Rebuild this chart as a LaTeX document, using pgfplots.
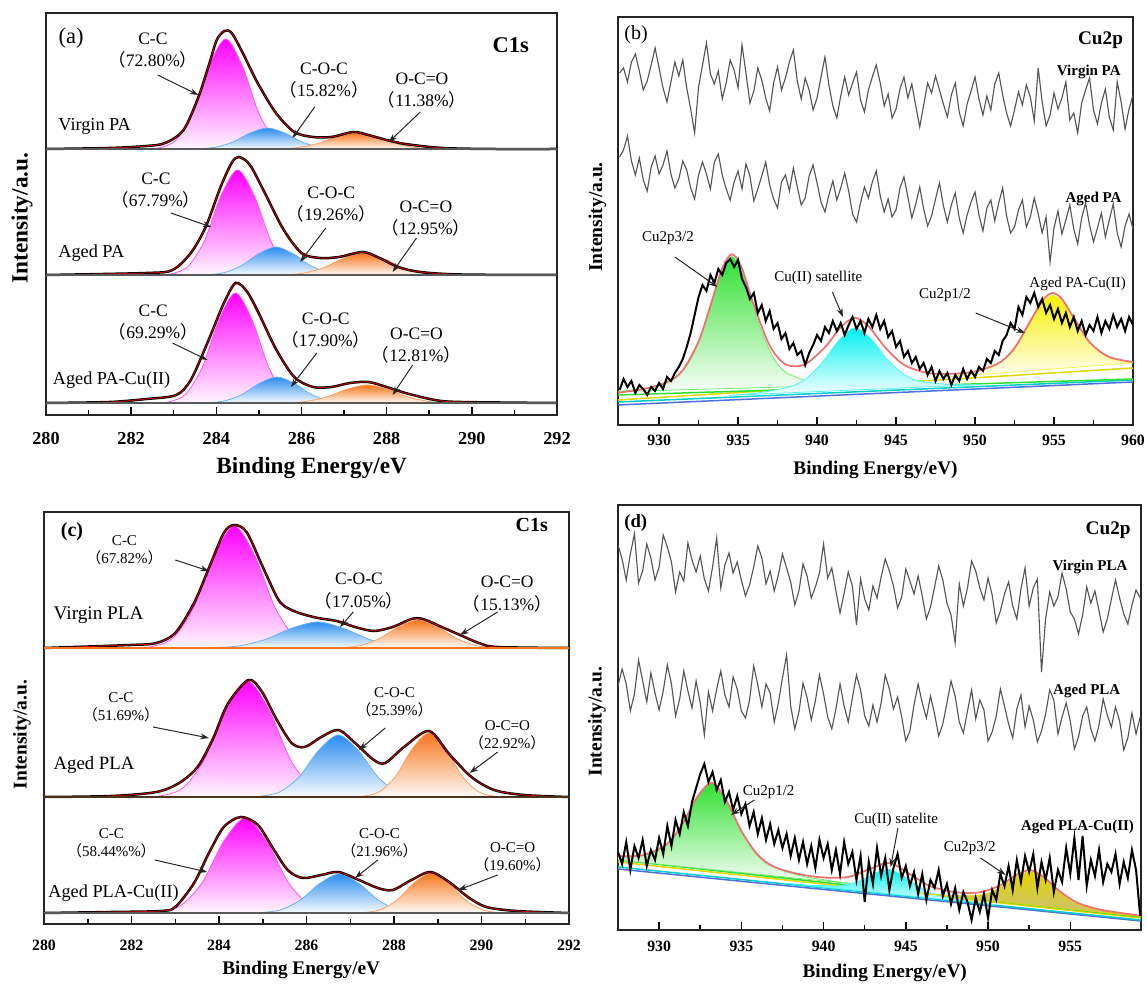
\documentclass[border=0pt]{standalone}
\usepackage{fontspec}
\setmainfont{Liberation Serif}
\newfontfamily\cjk{Noto Sans CJK SC}
\usepackage{pgfplots}
\usepackage{pgfplotstable}
\pgfplotsset{compat=1.18}
\usetikzlibrary{arrows.meta}

\definecolor{mag}{HTML}{FF00FF}
\definecolor{cblue}{HTML}{2A8CF0}
\definecolor{corange}{HTML}{F7761C}
\definecolor{cgreen}{HTML}{30E030}
\definecolor{ccyan}{HTML}{00F0F0}
\definecolor{cyellow}{HTML}{F7EF00}
\definecolor{dyellow}{HTML}{E6D400}
\definecolor{fitred}{HTML}{EE7070}
\definecolor{noise}{HTML}{555555}
\definecolor{lblue}{HTML}{4F6FE0}

\newcommand\lp{{\cjk （}}
\newcommand\rp{{\cjk ）}}
\newcommand\fs[2]{\fontsize{#1}{#2}\selectfont}

\tikzset{
  arr/.style={-{Stealth[length=3.5pt,width=2.4pt]}, line width=0.4pt, black!85},
  la/.style={font=\fs{7}{8.8}, align=center, inner sep=0pt},
  lc/.style={font=\fs{6}{7.2}, align=center, inner sep=0pt},
  lw/.style={anchor=west, inner sep=0pt},
}

\pgfplotsset{
  xps/.style={scale only axis, anchor=south west, ymin=0,
    axis line style={line width=0.7pt, black!85},
    ytick=\empty, xtick pos=left, tick align=inside,
    major tick length=3pt, minor tick length=1.8pt,
    every tick/.style={black, line width=0.6pt},
    minor x tick num=1,
    tick label style={font=\fs{6.3}{7}\bfseries},
    /pgf/number format/assume math mode=true,
    /pgf/number format/1000 sep={},
    xlabel style={font=\fs{7.7}{9}\bfseries, anchor=center},
    ylabel style={font=\fs{7.8}{9}\bfseries, anchor=center},
  },
  comp/.style={smooth, line width=0.3pt, draw=#1!70!white, top color=#1, bottom color=#1!3!white},
  env/.style={smooth, line width=1pt, black},
  envr/.style={smooth, line width=0.35pt, red!75!black},
}

% panel (b): Virgin PA (v), Aged PA (a), Aged PA-Cu(II) (c)
\pgfplotstableread{
x v a c
927.50 352 268 35
927.75 357 275 46
928.00 343 289 38
928.25 363 264 44
928.50 371 250 32
928.75 354 267 40
929.00 335 245 36
929.25 344 234 30
929.50 360 258 38
929.75 377 269 34
930.00 357 251 42
930.25 337 260 36
930.50 323 274 48
930.75 343 251 44
931.00 363 237 52
931.25 349 246 58
931.50 365 264 66
931.75 337 255 78
932.00 316 237 92
932.25 292 226 110
932.50 338 250 128
932.75 360 263 140
933.00 382 251 134
933.25 351 236 150
933.50 341 263 142
933.75 354 271 156
934.00 326 250 150
934.25 342 236 162
934.50 365 225 166
934.75 355 243 158
935.00 337 254 165
935.25 380 236 146
935.50 352 261 138
935.75 322 249 126
936.00 334 224 132
936.25 357 236 112
936.50 345 249 120
936.75 327 263 104
937.00 314 240 114
937.25 342 226 96
937.50 358 217 102
937.75 335 243 86
938.00 347 250 92
938.25 363 234 76
938.50 375 257 82
938.75 344 238 70
939.00 326 220 74
939.25 347 227 60
939.50 335 249 72
939.75 315 260 80
940.00 327 242 90
940.25 348 223 84
940.50 368 213 98
940.75 340 230 92
941.00 319 244 104
941.25 307 225 94
941.50 329 237 102
941.75 348 252 90
942.00 330 234 100
942.25 342 211 108
942.50 353 203 96
942.75 325 222 104
943.00 313 238 92
943.25 335 227 106
943.50 348 243 98
943.75 360 254 110
944.00 342 229 96
944.25 319 213 104
944.50 331 226 88
944.75 307 208 94
945.00 316 215 78
945.25 336 237 84
945.50 348 248 68
945.75 327 228 74
946.00 341 207 62
946.25 319 221 68
946.50 298 238 56
946.75 320 216 62
947.00 342 199 50
947.25 332 209 58
947.50 349 226 44
947.75 335 242 54
948.00 321 219 46
948.25 308 203 52
948.50 330 220 40
948.75 342 232 50
949.00 313 207 44
949.25 299 192 56
949.50 321 210 46
949.75 334 223 54
950.00 348 233 48
950.25 326 210 58
950.50 310 194 54
950.75 329 217 66
951.00 315 225 62
951.25 341 204 74
951.50 352 222 70
951.75 330 237 84
952.00 312 209 90
952.25 299 192 102
952.50 315 198 96
952.75 333 215 118
953.00 320 225 110
953.25 340 198 128
953.50 328 208 122
953.75 304 227 132
954.00 357 211 118
954.25 323 192 126
954.50 299 208 112
954.75 310 163 120
955.00 332 197 106
955.25 316 214 116
955.50 327 191 102
955.75 343 205 112
956.00 305 220 98
956.25 312 196 108
956.50 292 181 94
956.75 322 207 104
957.00 335 222 90
957.25 347 200 100
957.50 315 183 94
957.75 301 197 108
958.00 322 212 92
958.25 336 188 104
958.50 308 205 96
958.75 295 221 110
959.00 343 192 98
959.25 323 178 106
959.50 296 199 94
959.75 316 211 108
960.00 330 196 100
}\tabB

% panel (d): Virgin PLA (v), Aged PLA (a), Aged PLA-Cu(II) (c)
\pgfplotstableread{
x v a c
927.50 385 244 78
927.75 371 261 66
928.00 350 246 88
928.25 376 219 60
928.50 396 236 84
928.75 347 270 72
929.00 359 249 90
929.25 386 228 64
929.50 372 257 80
929.75 350 237 70
930.00 363 220 92
930.25 395 239 76
930.50 383 265 104
930.75 368 246 84
931.00 338 214 110
931.25 358 231 96
931.50 349 259 118
931.75 387 239 104
932.00 370 222 128
932.25 358 249 142
932.50 374 227 156
932.75 351 195 166
933.00 339 238 148
933.25 363 219 158
933.50 392 241 140
933.75 342 259 150
934.00 365 235 128
934.25 377 223 138
934.50 357 253 120
934.75 368 241 134
935.00 350 219 116
935.25 334 212 126
935.50 345 230 104
935.75 363 264 118
936.00 384 245 96
936.25 372 223 112
936.50 346 246 90
936.75 359 237 106
937.00 339 208 86
937.25 355 227 100
937.50 376 252 82
937.75 362 275 96
938.00 348 224 74
938.25 325 201 92
938.50 339 218 70
938.75 366 247 88
939.00 354 232 66
939.25 332 210 84
939.50 343 229 62
939.75 357 255 90
940.00 386 236 72
940.25 352 213 86
940.50 362 201 60
940.75 339 221 80
941.00 317 246 56
941.25 337 224 88
941.50 358 208 66
941.75 344 232 78
942.00 305 255 50
942.25 351 240 74
942.50 331 214 28
942.75 320 204 68
943.00 344 225 46
943.25 332 208 82
943.50 353 227 54
943.75 371 255 72
944.00 359 241 40
944.25 344 221 62
944.50 322 233 76
944.75 333 213 52
945.00 361 189 64
945.25 349 199 44
945.50 336 225 58
945.75 354 246 36
946.00 334 227 56
946.25 311 212 30
946.50 323 234 50
946.75 343 216 42
947.00 364 194 60
947.25 350 206 34
947.50 327 227 46
947.75 315 249 26
948.00 287 234 42
948.25 346 208 20
948.50 324 197 38
948.75 342 219 28
949.00 369 240 10
949.25 359 211 32
949.50 342 230 18
949.75 330 220 36
950.00 352 189 12
950.25 335 198 40
950.50 307 214 30
950.75 319 241 56
951.00 336 224 44
951.25 348 206 64
951.50 324 192 40
951.75 311 221 70
952.00 341 235 48
952.25 362 203 74
952.50 324 224 58
952.75 342 210 76
953.00 351 188 42
953.25 258 199 68
953.50 311 216 50
953.75 338 240 72
954.00 324 230 38
954.25 333 196 60
954.50 357 213 48
954.75 341 227 82
955.00 318 209 56
955.25 311 181 92
955.50 296 193 50
955.75 315 214 94
956.00 343 223 44
956.25 327 201 70
956.50 339 189 54
956.75 319 205 80
957.00 298 231 48
957.25 311 215 66
957.50 331 203 58
957.75 350 223 76
958.00 332 209 46
958.25 316 180 68
958.50 306 192 52
958.75 325 217 80
959.00 340 196 60
959.25 332 213 14
}\tabD

\begin{document}
\begin{tikzpicture}
\path[use as bounding box] (0,0) rectangle (458.8pt,393.6pt);

% ---------------- (a) C1s, PA ----------------
\begin{axis}[xps, at={(18.4pt,227.6pt)}, width=204.4pt, height=160.8pt,
  xmin=280, xmax=292, ymax=402, xtick={280,282,...,292},
  tick label style={font=\fs{7.3}{8}\bfseries, yshift=-3.5pt},
  xlabel={Binding Energy/eV}, ylabel={Intensity/a.u.},
  xlabel style={font=\fs{9.3}{11}\bfseries, at={(axis description cs:0.52,-0.132)}},
  ylabel style={font=\fs{9.3}{11}\bfseries, at={(axis description cs:-0.047,0.49)}},
]
% Virgin PA
\addplot[comp=mag] coordinates {(282.27,266) (282.66,267.2) (283.05,274.8) (283.44,301.7) (283.83,349) (284.22,376) (284.61,349) (285.00,301.7) (285.39,274.8) (285.78,267.2) (286.17,266)} -- cycle;
\addplot[comp=cblue] coordinates {(283.15,266) (283.56,266.2) (283.97,267.7) (284.38,272.8) (284.79,281.9) (285.20,287) (285.61,281.9) (286.02,272.8) (286.43,267.7) (286.84,266.2) (287.25,266)} -- cycle;
\addplot[comp=corange] coordinates {(284.95,266) (285.42,266.2) (285.89,267.3) (286.36,271.2) (286.83,278.1) (287.30,282) (287.77,278.1) (288.24,271.2) (288.71,267.3) (289.18,266.2) (289.65,266)} -- cycle;
\addplot[env] coordinates {(280,266) (281.5,267) (282.36,269) (282.8,272) (283.23,285) (283.58,318) (283.84,352) (284.01,375) (284.19,384) (284.36,382) (284.62,362) (284.97,332) (285.4,302) (285.83,283) (286.27,278) (286.7,278) (287.22,283) (287.57,280) (288.0,275) (288.44,271) (289.31,267) (290.5,266) (292,266)};
\addplot[envr] coordinates {(280,266) (281.5,267) (282.36,269) (282.8,272) (283.23,285) (283.58,318) (283.84,352) (284.01,375) (284.19,384) (284.36,382) (284.62,362) (284.97,332) (285.4,302) (285.83,283) (286.27,278) (286.7,278) (287.22,283) (287.57,280) (288.0,275) (288.44,271) (289.31,267) (290.5,266) (292,266)};
\addplot[black!65, line width=0.8pt] coordinates {(280,266) (292,266)};
% Aged PA
\addplot[comp=mag] coordinates {(282.55,140) (282.94,141.2) (283.33,148.4) (283.72,174.1) (284.11,219.3) (284.50,245) (284.89,219.3) (285.28,174.1) (285.67,148.4) (286.06,141.2) (286.45,140)} -- cycle;
\addplot[comp=cblue] coordinates {(283.35,140) (283.76,140.3) (284.17,142.2) (284.58,149.1) (284.99,161.1) (285.40,168) (285.81,161.1) (286.22,149.1) (286.63,142.2) (287.04,140.3) (287.45,140)} -- cycle;
\addplot[comp=corange] coordinates {(285.10,140) (285.57,140.2) (286.04,141.8) (286.51,147.1) (286.98,156.6) (287.45,162) (287.92,156.6) (288.39,147.1) (288.86,141.8) (289.33,140.2) (289.80,140)} -- cycle;
\addplot[env] coordinates {(280,140) (282.36,142) (282.97,145) (283.4,162) (283.75,188) (284.1,228) (284.36,252) (284.53,258) (284.79,250) (285.14,222) (285.57,186) (286.0,162) (286.44,157) (286.88,158) (287.44,163) (287.83,157) (288.27,148) (288.79,143) (289.74,140.5) (292,140)};
\addplot[envr] coordinates {(280,140) (282.36,142) (282.97,145) (283.4,162) (283.75,188) (284.1,228) (284.36,252) (284.53,258) (284.79,250) (285.14,222) (285.57,186) (286.0,162) (286.44,157) (286.88,158) (287.44,163) (287.83,157) (288.27,148) (288.79,143) (289.74,140.5) (292,140)};
\addplot[black!65, line width=0.8pt] coordinates {(280,140) (292,140)};
% Aged PA-Cu(II)
\addplot[comp=mag] coordinates {(282.50,12) (282.89,13.2) (283.28,20.8) (283.67,47.7) (284.06,95) (284.45,122) (284.84,95) (285.23,47.7) (285.62,20.8) (286.01,13.2) (286.40,12)} -- cycle;
\addplot[comp=cblue] coordinates {(283.37,12) (283.78,12.3) (284.19,14.1) (284.60,20.4) (285.01,31.6) (285.42,38) (285.83,31.6) (286.24,20.4) (286.65,14.1) (287.06,12.3) (287.47,12)} -- cycle;
\addplot[comp=corange] coordinates {(285.10,12) (285.59,12.2) (286.08,13.4) (286.57,17.8) (287.06,25.6) (287.55,30) (288.04,25.6) (288.53,17.8) (289.02,13.4) (289.51,12.2) (290.00,12)} -- cycle;
\addplot[env] coordinates {(280,12) (281.49,13) (282.36,16) (283.06,20) (283.4,35) (283.75,68) (284.01,95) (284.19,113) (284.45,132) (284.71,124) (284.97,104) (285.4,66) (285.83,38) (286.27,28) (286.7,28) (287.14,32) (287.57,33) (288.0,28) (288.44,22) (289.13,15) (289.74,13) (292,12)};
\addplot[envr] coordinates {(280,12) (281.49,13) (282.36,16) (283.06,20) (283.4,35) (283.75,68) (284.01,95) (284.19,113) (284.45,132) (284.71,124) (284.97,104) (285.4,66) (285.83,38) (286.27,28) (286.7,28) (287.14,32) (287.57,33) (288.0,28) (288.44,22) (289.13,15) (289.74,13) (292,12)};
\addplot[black!65, line width=0.8pt] coordinates {(280,12) (292,12)};
% labels
\node[font=\fs{9}{10}] at (axis cs:280.59,377) {(a)};
\node[font=\fs{9}{10}\bfseries, anchor=east, inner sep=0pt] at (axis cs:291.35,370) {C1s};
\node[la] at (axis cs:282.51,364) {C-C\\\lp 72.80\%\rp};
\draw[arr] (axis cs:282.62,340) -- (axis cs:283.58,320);
\node[la] at (axis cs:286.53,334) {C-O-C\\\lp 15.82\%\rp};
\draw[arr] (axis cs:286.31,308) -- (axis cs:285.79,277);
\node[la] at (axis cs:288.83,324) {O-C=O\\\lp 11.38\%\rp};
\draw[arr] (axis cs:288.79,303) -- (axis cs:288.05,273);
\node[lw, font=\fs{7.3}{9}] at (axis cs:280.28,289) {Virgin PA};
\node[la] at (axis cs:282.58,224.5) {C-C\\\lp 67.79\%\rp};
\draw[arr] (axis cs:282.93,202) -- (axis cs:283.88,188);
\node[la] at (axis cs:286.70,210) {C-O-C\\\lp 19.26\%\rp};
\draw[arr] (axis cs:286.57,187) -- (axis cs:285.97,153);
\node[la] at (axis cs:288.92,196) {O-C=O\\\lp 12.95\%\rp};
\draw[arr] (axis cs:288.70,177) -- (axis cs:288.14,143);
\node[lw, font=\fs{7.3}{9}] at (axis cs:280.28,162) {Aged PA};
\node[la] at (axis cs:282.52,92) {C-C\\\lp 69.29\%\rp};
\draw[arr] (axis cs:282.97,72) -- (axis cs:283.79,55);
\node[la] at (axis cs:286.57,84) {C-O-C\\\lp 17.90\%\rp};
\draw[arr] (axis cs:286.36,62) -- (axis cs:285.75,28);
\node[la] at (axis cs:288.70,69) {O-C=O\\\lp 12.81\%\rp};
\draw[arr] (axis cs:288.61,50) -- (axis cs:288.14,20);
\node[lw, font=\fs{7.3}{9}] at (axis cs:280.15,35) {Aged PA-Cu(II)};
\end{axis}

% ---------------- (b) Cu2p, PA ----------------
\begin{axis}[xps, at={(247.2pt,223.6pt)}, width=206pt, height=163.2pt,
  xmin=927.4, xmax=960, ymax=408, xtick={930,935,...,960},
  tick label style={yshift=-0.5pt},
  xlabel={Binding Energy/eV)}, ylabel={Intensity/a.u.},
  xlabel style={at={(axis description cs:0.5,-0.11)}},
  ylabel style={at={(axis description cs:-0.04,0.51)}},
]
\addplot[lblue, line width=0.6pt] coordinates {(927.4,20) (960,43)};
\addplot[ccyan!85!black, line width=0.6pt] coordinates {(927.4,23) (960,45)};
\addplot[cyellow!90!black, line width=0.6pt] coordinates {(927.4,25) (960,57)};
\addplot[cgreen, line width=0.6pt] coordinates {(927.4,30) (960,46)};
\addplot[comp=cgreen] coordinates {(927.4,33.4) (929.5,37.9) (931.2,49.6) (932.05,67.3) (932.9,100.2) (933.75,143.8) (934.6,168.5) (935.45,144.6) (936.3,101.9) (937.15,69.8) (938.0,52.9) (939.7,42.9) (941.4,40.8) (943.1,40.3)} -- cycle;
\addplot[comp=ccyan] coordinates {(934.4,29.6) (936.4,32.4) (938.4,38.8) (939.4,47.7) (940.4,63.8) (941.4,85.0) (942.4,97.1) (943.4,86.3) (944.4,66.5) (945.4,51.8) (946.4,44.2) (948.4,40.5) (950.4,40.4)} -- cycle;
\addplot[comp=cyellow] coordinates {(947.3,46.8) (949.2,50.4) (951.1,58.4) (952.05,69.4) (953.0,89.1) (953.95,115.0) (954.9,130.0) (955.85,116.9) (956.8,92.8) (957.75,74.9) (958.7,65.9) (960.0,62.1)} -- cycle;
\addplot[fitred, smooth, line width=0.7pt] coordinates {(927.4,32.3) (929,35.9) (930.5,42.5) (931.5,54.8) (932.5,83.5) (933.3,121.7) (934,156.9) (934.6,170.7) (935.2,158.4) (936,120) (937,79.4) (938,60.7) (939.2,60.4) (940.5,77.7) (941.5,97.6) (942.4,107.3) (943.3,97.9) (944.3,77.8) (945.5,60.2) (947,52) (948.5,51.2) (950,53.5) (951.5,61.9) (952.5,76.8) (953.5,104) (954.3,125) (954.9,132) (955.5,126) (956.3,106) (957.3,82) (958.5,68) (960,63)};
\addplot[black, line width=0.8pt] table[x=x, y=c] {\tabB};
\addplot[noise, line width=0.45pt] table[x=x, y=v] {\tabB};
\addplot[noise, line width=0.45pt] table[x=x, y=a] {\tabB};
\node[font=\fs{8}{9}] at (axis cs:928.54,390) {(b)};
\node[font=\fs{7.7}{9}\bfseries, anchor=east, inner sep=0pt] at (axis cs:959.4,385) {Cu2p};
\node[font=\fs{6}{7}\bfseries] at (axis cs:957.2,353) {Virgin PA};
\node[font=\fs{6}{7}\bfseries] at (axis cs:957.5,226) {Aged PA};
\node[font=\fs{6}{7}] at (axis cs:956.5,141) {Aged PA-Cu(II)};
\node[font=\fs{6}{7}] at (axis cs:930.56,187) {Cu2p3/2};
\draw[arr] (axis cs:931.0,168) -- (axis cs:933.69,138);
\node[font=\fs{6}{7}] at (axis cs:940.08,147) {Cu(II) satellite};
\draw[arr] (axis cs:940.97,133) -- (axis cs:941.64,108);
\node[font=\fs{6}{7}] at (axis cs:948.1,130) {Cu2p1/2};
\draw[arr] (axis cs:950.04,112) -- (axis cs:953.17,92);
\end{axis}

% ---------------- (c) C1s, PLA ----------------
\begin{axis}[xps, at={(17.6pt,24pt)}, width=210pt, height=164.8pt,
  xmin=280, xmax=292, ymax=412, xtick={280,282,...,292},
  tick label style={yshift=-2.8pt},
  xlabel={Binding Energy/eV}, ylabel={Intensity/a.u.},
  xlabel style={at={(axis description cs:0.49,-0.112)}},
  ylabel style={at={(axis description cs:-0.042,0.46)}},
]
% Virgin PLA
\addplot[comp=mag] coordinates {(282.00,276) (282.47,277.4) (282.94,285.7) (283.41,315.6) (283.88,368.1) (284.35,398) (284.82,368.1) (285.29,315.6) (285.76,285.7) (286.23,277.4) (286.70,276)} -- cycle;
\addplot[comp=cblue] coordinates {(283.25,276) (283.85,276.3) (284.45,278.1) (285.05,284.4) (285.65,295.6) (286.25,302) (286.85,295.6) (287.45,284.4) (288.05,278.1) (288.65,276.3) (289.25,276)} -- cycle;
\addplot[comp=corange] coordinates {(286.30,276) (286.75,276.3) (287.20,278.2) (287.65,285.1) (288.10,297.1) (288.55,304) (289.00,297.1) (289.45,285.1) (289.90,278.2) (290.35,276.3) (290.80,276)} -- cycle;
\addplot[env] coordinates {(280,276) (281.97,279) (282.57,281) (283.0,291) (283.43,321) (283.77,356) (284.11,391) (284.35,399) (284.63,392) (284.97,360) (285.31,328) (285.49,318) (285.83,311) (286.26,306) (286.69,303) (287.11,297) (287.54,293) (287.97,297) (288.4,305) (288.66,305) (289.09,297) (289.51,289) (289.94,281) (290.37,277) (292,276)};
\addplot[envr] coordinates {(280,276) (281.97,279) (282.57,281) (283.0,291) (283.43,321) (283.77,356) (284.11,391) (284.35,399) (284.63,392) (284.97,360) (285.31,328) (285.49,318) (285.83,311) (286.26,306) (286.69,303) (287.11,297) (287.54,293) (287.97,297) (288.4,305) (288.66,305) (289.09,297) (289.51,289) (289.94,281) (290.37,277) (292,276)};
\addplot[corange, line width=0.8pt] coordinates {(280,276) (292,276)};
% Aged PLA
\addplot[comp=mag] coordinates {(282.20,127) (282.69,128.3) (283.18,136.2) (283.67,164.7) (284.16,214.6) (284.65,243) (285.14,214.6) (285.63,164.7) (286.12,136.2) (286.61,128.3) (287.10,127)} -- cycle;
\addplot[comp=cblue] coordinates {(284.48,127) (284.93,127.7) (285.38,131.9) (285.83,147.1) (286.28,173.8) (286.73,189) (287.18,173.8) (287.63,147.1) (288.08,131.9) (288.53,127.7) (288.98,127)} -- cycle;
\addplot[comp=corange] coordinates {(286.90,127) (287.28,127.7) (287.66,132.1) (288.04,147.8) (288.42,175.3) (288.80,191) (289.18,175.3) (289.56,147.8) (289.94,132.1) (290.32,127.7) (290.70,127)} -- cycle;
\addplot[env] coordinates {(280,127) (281.54,128) (282.57,132) (283.09,141) (283.51,157) (283.86,185) (284.2,220) (284.67,244) (284.97,233) (285.31,205) (285.66,181) (285.96,177) (286.34,187) (286.73,194) (287.11,181) (287.54,164) (287.8,161) (288.23,177) (288.8,193) (289.26,170) (289.77,147) (290.29,134) (290.97,129) (292,127)};
\addplot[envr] coordinates {(280,127) (281.54,128) (282.57,132) (283.09,141) (283.51,157) (283.86,185) (284.2,220) (284.67,244) (284.97,233) (285.31,205) (285.66,181) (285.96,177) (286.34,187) (286.73,194) (287.11,181) (287.54,164) (287.8,161) (288.23,177) (288.8,193) (289.26,170) (289.77,147) (290.29,134) (290.97,129) (292,127)};
\addplot[black!60!brown, line width=0.8pt] coordinates {(280,127) (292,127)};
% Aged PLA-Cu(II)
\addplot[comp=mag] coordinates {(282.15,11) (282.64,12.1) (283.13,18.6) (283.62,41.8) (284.11,82.7) (284.60,106) (285.09,82.7) (285.58,41.8) (286.07,18.6) (286.56,12.1) (287.05,11)} -- cycle;
\addplot[comp=cblue] coordinates {(284.50,11) (284.95,11.4) (285.40,14.1) (285.85,23.7) (286.30,40.4) (286.75,50) (287.20,40.4) (287.65,23.7) (288.10,14.1) (288.55,11.4) (289.00,11)} -- cycle;
\addplot[comp=corange] coordinates {(286.90,11) (287.29,11.4) (287.68,14.2) (288.07,24.0) (288.46,41.2) (288.85,51) (289.24,41.2) (289.63,24.0) (290.02,14.2) (290.41,11.4) (290.80,11)} -- cycle;
\addplot[env] coordinates {(280,11) (281.54,12) (282.66,13) (283.0,17) (283.43,41) (283.77,71) (284.11,97) (284.5,107) (284.89,99) (285.23,76) (285.57,54) (285.91,46) (286.34,49) (286.73,52) (287.2,44) (287.63,36) (287.97,34) (288.4,44) (288.83,52) (289.26,42) (289.69,27) (290.11,17) (290.8,13) (292,11)};
\addplot[envr] coordinates {(280,11) (281.54,12) (282.66,13) (283.0,17) (283.43,41) (283.77,71) (284.11,97) (284.5,107) (284.89,99) (285.23,76) (285.57,54) (285.91,46) (286.34,49) (286.73,52) (287.2,44) (287.63,36) (287.97,34) (288.4,44) (288.83,52) (289.26,42) (289.69,27) (290.11,17) (290.8,13) (292,11)};
\addplot[black!65, line width=0.8pt] coordinates {(280,11) (292,11)};
% labels
\node[font=\fs{8}{9}\bfseries] at (axis cs:280.64,392) {(c)};
\node[font=\fs{8}{9}\bfseries, anchor=east, inner sep=0pt] at (axis cs:291.53,399) {C1s};
\node[lc] at (axis cs:281.84,374) {C-C\\\lp 67.82\%\rp};
\draw[arr] (axis cs:283.0,364) -- (axis cs:283.77,353);
\node[font=\fs{7}{9.2}, align=center, inner sep=0pt] at (axis cs:287.2,333) {C-O-C\\\lp 17.05\%\rp};
\draw[arr] (axis cs:287.07,312) -- (axis cs:286.77,297);
\node[font=\fs{7}{9.2}, align=center, inner sep=0pt] at (axis cs:290.59,330) {O-C=O\\\lp 15.13\%\rp};
\draw[arr] (axis cs:290.37,312) -- (axis cs:289.51,289);
\node[lw, font=\fs{7.7}{9}] at (axis cs:280.21,309) {Virgin PLA};
\node[lc] at (axis cs:281.76,217) {C-C\\\lp 51.69\%\rp};
\draw[arr] (axis cs:282.49,197) -- (axis cs:283.77,186);
\node[lc] at (axis cs:288.01,222) {C-O-C\\\lp 25.39\%\rp};
\draw[arr] (axis cs:287.8,196) -- (axis cs:287.2,174);
\node[lc] at (axis cs:290.59,189) {O-C=O\\\lp 22.92\%\rp};
\draw[arr] (axis cs:290.37,172) -- (axis cs:289.73,151);
\node[lw, font=\fs{7.5}{9}] at (axis cs:280.21,159) {Aged PLA};
\node[lc] at (axis cs:281.54,81) {C-C\\\lp 58.44\%\%\rp};
\draw[arr] (axis cs:282.53,64) -- (axis cs:283.73,52);
\node[lc] at (axis cs:287.67,81) {C-O-C\\\lp 21.96\%\rp};
\draw[arr] (axis cs:287.63,64) -- (axis cs:287.11,46);
\node[lc] at (axis cs:290.71,67) {O-C=O\\\lp 19.60\%\rp};
\draw[arr] (axis cs:290.37,49) -- (axis cs:289.47,34);
\node[lw, font=\fs{7.3}{9}] at (axis cs:280.09,31) {Aged PLA-Cu(II)};
\end{axis}

% ---------------- (d) Cu2p, PLA ----------------
\begin{axis}[xps, at={(247.2pt,21.6pt)}, width=209.2pt, height=170pt,
  xmin=927.5, xmax=959.3, ymax=425, xtick={930,935,...,955},
  tick label style={yshift=-1pt},
  xlabel={Binding Energy/eV)}, ylabel={Intensity/a.u.},
  xlabel style={at={(axis description cs:0.51,-0.101)}},
  ylabel style={at={(axis description cs:-0.04,0.49)}},
]
\addplot[lblue, line width=0.6pt] coordinates {(927.5,61) (959.3,9)};
\addplot[ccyan!85!black, line width=0.6pt] coordinates {(927.5,63) (959.3,10)};
\addplot[dyellow, line width=0.6pt] coordinates {(927.5,68) (959.3,12)};
\addplot[cgreen, line width=0.6pt] coordinates {(927.5,70) (959.3,13)};
\addplot[comp=cgreen] coordinates {(927.5,70) (927.5,73.8) (928.8,74.3) (929.7,77.5) (930.58,87.0) (931.45,106.4) (932.33,132.7) (933.2,146.8) (934.08,129.5) (934.95,100.2) (935.83,77.6) (936.7,64.9) (938.45,54.8) (940.2,49.8) (941.95,45.8)} -- cycle;
\addplot[comp=ccyan] coordinates {(937.6,46.8) (939.2,44.8) (940.8,44.1) (941.6,46.0) (942.4,50.6) (943.2,57.3) (944.0,60.4) (944.8,54.6) (945.6,45.3) (946.4,37.9) (947.2,33.4) (948.8,28.7) (950.4,25.5)} -- cycle;
\addplot[smooth, line width=0.3pt, draw=dyellow, top color=dyellow, bottom color=dyellow!45!gray!70] coordinates {(945.8,37.0) (947.5,34.7) (949.2,34.5) (950.05,37.3) (950.9,44.0) (951.75,53.5) (952.6,58.1) (953.45,50.5) (954.3,38.1) (955.15,28.4) (956.0,22.6) (957.7,16.9) (959.3,13.3)} -- cycle;
\addplot[fitred, smooth, line width=0.7pt] coordinates {(927.5,74) (929,74.8) (930.5,86.2) (931.5,108.4) (932.3,132.5) (933.2,147.2) (934.1,129.3) (935,99.1) (936,75.1) (937,63.1) (938.5,55.9) (940,52.5) (941.5,53) (942.7,60.2) (944,67.1) (945.3,55.3) (946.5,43.7) (948,37.8) (949.5,37.7) (950.8,45.1) (951.8,55.8) (952.6,59.7) (953.4,52.7) (954.4,38.2) (955.5,26.8) (957,19.8) (959.3,14.3)};
\addplot[black, line width=0.8pt] table[x=x, y=c] {\tabD};
\addplot[noise, line width=0.45pt] table[x=x, y=v] {\tabD};
\addplot[noise, line width=0.45pt] table[x=x, y=a] {\tabD};
\node[font=\fs{7.5}{9}\bfseries] at (axis cs:928.58,407) {(d)};
\node[font=\fs{7.7}{9}\bfseries, anchor=east, inner sep=0pt] at (axis cs:958.7,400) {Cu2p};
\node[font=\fs{6}{7}\bfseries] at (axis cs:956.2,363) {Virgin PLA};
\node[font=\fs{6}{7}\bfseries] at (axis cs:956.0,239) {Aged PLA};
\node[font=\fs{6}{7}] at (axis cs:936.66,138) {Cu2p1/2};
\draw[arr] (axis cs:935.79,130) -- (axis cs:934.37,115);
\node[font=\fs{6}{7}] at (axis cs:944.41,110) {Cu(II) satelite};
\draw[arr] (axis cs:944.52,102) -- (axis cs:944.08,63);
\node[font=\fs{6}{7}\bfseries] at (axis cs:955.44,103) {Aged PLA-Cu(II)};
\node[font=\fs{6}{7}] at (axis cs:948.89,82) {Cu2p3/2};
\draw[arr] (axis cs:949.54,72) -- (axis cs:951.07,55);
\end{axis}
\end{tikzpicture}
\end{document}
